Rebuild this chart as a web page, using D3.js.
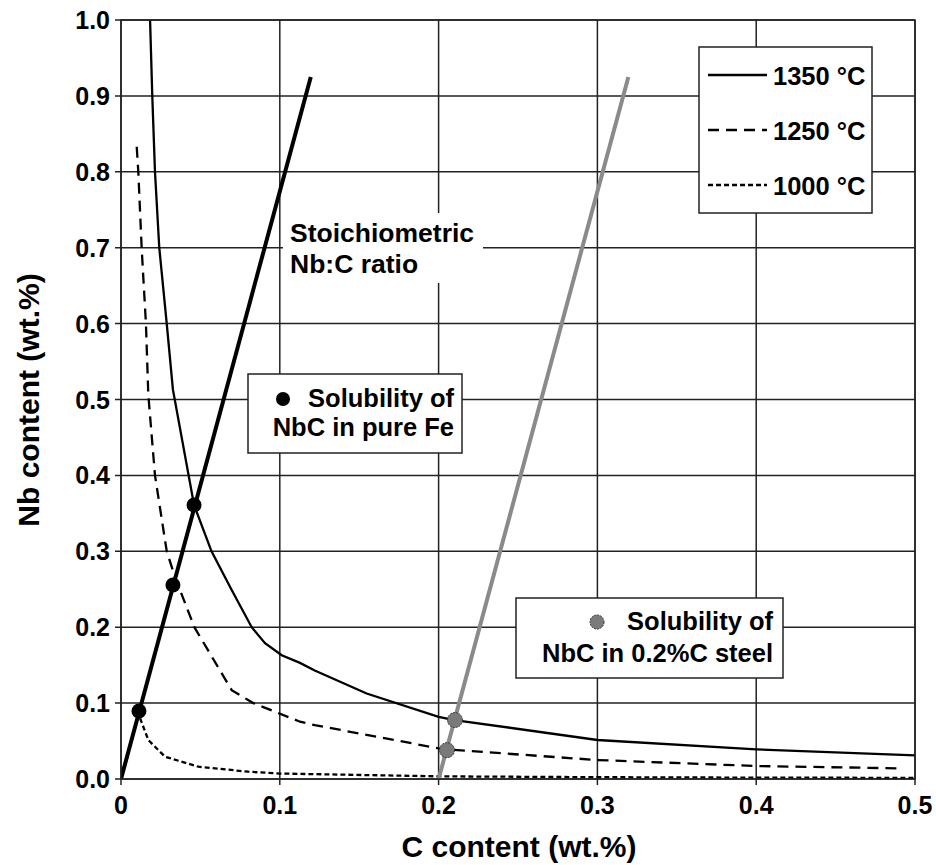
<!DOCTYPE html>
<html>
<head>
<meta charset="utf-8">
<script src="https://cdn.jsdelivr.net/npm/d3@7"></script>
<style>
  body { margin: 0; background: #fff; }
  text { font-family: "Liberation Sans", Arial, sans-serif; font-weight: bold; fill: #000; }
</style>
</head>
<body>
<div id="container"></div>
<script>
// Values (C wt.%, Nb wt.%)
const c1350 = [0.0183, 0.0197, 0.0214, 0.0241, 0.0288, 0.0327, 0.046, 0.057, 0.0697, 0.0823, 0.0907, 0.1012, 0.1127, 0.122, 0.1547, 0.2, 0.21, 0.3, 0.4, 0.5];
const nb1350 = [1.0, 0.9, 0.8, 0.7, 0.6, 0.513, 0.361, 0.3, 0.249, 0.2, 0.179, 0.163, 0.153, 0.143, 0.1126, 0.082, 0.0777, 0.0514, 0.039, 0.031];

const c1250 = [0.0099, 0.0109, 0.013, 0.0157, 0.0172, 0.0214, 0.0288, 0.034, 0.0462, 0.0697, 0.0833, 0.1127, 0.122, 0.2, 0.205, 0.3, 0.4, 0.492];
const nb1250 = [0.833, 0.8, 0.7, 0.6, 0.506, 0.4, 0.3, 0.266, 0.2, 0.117, 0.1, 0.0755, 0.071, 0.0404, 0.039, 0.025, 0.0171, 0.014];

const c1000 = [0.012, 0.0172, 0.0277, 0.0487, 0.0802, 0.1, 0.2, 0.3, 0.4, 0.5];
const nb1000 = [0.080, 0.0514, 0.0294, 0.0162, 0.0096, 0.0072, 0.0035, 0.0024, 0.0018, 0.0015];

// stoichiometric Nb:C lines (pure Fe and 0.2%C steel)
const stoichC = [0, 0.1195];
const stoichNb = [0, 0.925];
const steelC = [0.2, 0.3195];
const steelNb = [0, 0.925];

// solubility points
const pureFeC = [0.0113, 0.0327, 0.046];
const pureFeNb = [0.0896, 0.2556, 0.361];
const steelPtC = [0.2103, 0.2053];
const steelPtNb = [0.0777, 0.038];

const xTicks = [0, 0.1, 0.2, 0.3, 0.4, 0.5];
const xTickLabels = ["0", "0.1", "0.2", "0.3", "0.4", "0.5"];
const yTicks = [0, 0.1, 0.2, 0.3, 0.4, 0.5, 0.6, 0.7, 0.8, 0.9, 1.0];

const legendLabels = ["1350 °C", "1250 °C", "1000 °C"];
const legendDash = [null, "11,7", "5,3"];

const svg = d3.select("#container")
  .append("svg")
  .attr("width", 936)
  .attr("height", 865);

const m = { left: 121, right: 915, top: 20, bottom: 779 };

const x = d3.scaleLinear().domain([0, 0.5]).range([m.left, m.right]);
const y = d3.scaleLinear().domain([0, 1]).range([m.bottom, m.top]);

svg.append("defs").append("clipPath").attr("id", "plot")
  .append("rect")
  .attr("x", m.left).attr("y", m.top)
  .attr("width", m.right - m.left).attr("height", m.bottom - m.top);

// grid
svg.append("g")
  .selectAll("line")
  .data(xTicks)
  .join("line")
  .attr("x1", d => x(d)).attr("x2", d => x(d))
  .attr("y1", m.top).attr("y2", m.bottom + 6)
  .attr("stroke", "#222").attr("stroke-width", 1.5);

svg.append("g")
  .selectAll("line")
  .data(yTicks)
  .join("line")
  .attr("x1", m.left - 6).attr("x2", m.right)
  .attr("y1", d => y(d)).attr("y2", d => y(d))
  .attr("stroke", "#222").attr("stroke-width", 1.5);

// tick labels
svg.append("g")
  .selectAll("text")
  .data(yTicks)
  .join("text")
  .attr("x", m.left - 11)
  .attr("y", d => y(d) + 9)
  .attr("text-anchor", "end")
  .attr("font-size", 25)
  .text(d => d.toFixed(1));

svg.append("g")
  .selectAll("text")
  .data(xTicks)
  .join("text")
  .attr("x", d => x(d))
  .attr("y", m.bottom + 35)
  .attr("text-anchor", "middle")
  .attr("font-size", 25)
  .text((d, i) => xTickLabels[i]);

svg.append("text")
  .attr("x", 519)
  .attr("y", 857)
  .attr("text-anchor", "middle")
  .attr("font-size", 30)
  .text("C content (wt.%)");

svg.append("text")
  .attr("transform", "translate(39,400) rotate(-90)")
  .attr("text-anchor", "middle")
  .attr("font-size", 30)
  .text("Nb content (wt.%)");

// "Stoichiometric" label with white background
svg.append("rect")
  .attr("x", 283).attr("y", 213)
  .attr("width", 200).attr("height", 70)
  .attr("fill", "#fff");
svg.append("text").attr("x", 290).attr("y", 242).attr("font-size", 26.5).text("Stoichiometric");
svg.append("text").attr("x", 290).attr("y", 273).attr("font-size", 26.5).text("Nb:C ratio");

const plot = svg.append("g").attr("clip-path", "url(#plot)");

const line = d3.line().x(d => x(d[0])).y(d => y(d[1]));

const curves = [
  { c: c1350, nb: nb1350, dash: legendDash[0] },
  { c: c1250, nb: nb1250, dash: legendDash[1] },
  { c: c1000, nb: nb1000, dash: legendDash[2] }
];

curves.forEach(s => {
  plot.append("path")
    .datum(d3.zip(s.c, s.nb))
    .attr("d", line)
    .attr("fill", "none")
    .attr("stroke", "#000")
    .attr("stroke-width", 2.3)
    .attr("stroke-dasharray", s.dash);
});

plot.append("path")
  .datum(d3.zip(steelC, steelNb))
  .attr("d", line)
  .attr("fill", "none")
  .attr("stroke", "#8a8a8a")
  .attr("stroke-width", 4);

plot.append("path")
  .datum(d3.zip(stoichC, stoichNb))
  .attr("d", line)
  .attr("fill", "none")
  .attr("stroke", "#000")
  .attr("stroke-width", 4);

plot.selectAll("circle.fe")
  .data(d3.zip(pureFeC, pureFeNb))
  .join("circle")
  .attr("class", "fe")
  .attr("cx", d => x(d[0])).attr("cy", d => y(d[1]))
  .attr("r", 7.5)
  .attr("fill", "#000");

plot.selectAll("circle.st")
  .data(d3.zip(steelPtC, steelPtNb))
  .join("circle")
  .attr("class", "st")
  .attr("cx", d => x(d[0])).attr("cy", d => y(d[1]))
  .attr("r", 7.5)
  .attr("fill", "#7a7a7a")
  .attr("stroke", "#333")
  .attr("stroke-width", 1)
  .attr("stroke-dasharray", "2,1");

// frame
svg.append("rect")
  .attr("x", m.left).attr("y", m.top)
  .attr("width", m.right - m.left).attr("height", m.bottom - m.top)
  .attr("fill", "none")
  .attr("stroke", "#222").attr("stroke-width", 1.5);

// legend
const lg = svg.append("g");
lg.append("rect")
  .attr("x", 699).attr("y", 47)
  .attr("width", 173).attr("height", 166)
  .attr("fill", "#fff").attr("stroke", "#222").attr("stroke-width", 1.5);
legendLabels.forEach((lab, i) => {
  const ly = 75 + i * 55;
  lg.append("line")
    .attr("x1", 708).attr("x2", 767)
    .attr("y1", ly).attr("y2", ly)
    .attr("stroke", "#000").attr("stroke-width", 2.5)
    .attr("stroke-dasharray", legendDash[i]);
  lg.append("text")
    .attr("x", 773).attr("y", ly + 10)
    .attr("font-size", 25.5)
    .text(lab);
});

// solubility boxes
svg.append("rect")
  .attr("x", 248).attr("y", 374).attr("width", 214).attr("height", 79)
  .attr("fill", "#fff").attr("stroke", "#222").attr("stroke-width", 1.5);
svg.append("circle").attr("cx", 283).attr("cy", 399).attr("r", 7).attr("fill", "#000");
svg.append("text").attr("x", 454).attr("y", 407).attr("text-anchor", "end").attr("font-size", 25.5).text("Solubility of");
svg.append("text").attr("x", 454).attr("y", 436).attr("text-anchor", "end").attr("font-size", 25.5).text("NbC in pure Fe");

svg.append("rect")
  .attr("x", 516).attr("y", 598).attr("width", 267).attr("height", 80)
  .attr("fill", "#fff").attr("stroke", "#222").attr("stroke-width", 1.5);
svg.append("circle").attr("cx", 597).attr("cy", 622).attr("r", 7)
  .attr("fill", "#7a7a7a").attr("stroke", "#333").attr("stroke-width", 1).attr("stroke-dasharray", "2,1");
svg.append("text").attr("x", 773).attr("y", 630).attr("text-anchor", "end").attr("font-size", 25.5).text("Solubility of");
svg.append("text").attr("x", 773).attr("y", 662).attr("text-anchor", "end").attr("font-size", 25.5).text("NbC in 0.2%C steel");
</script>
</body>
</html>
